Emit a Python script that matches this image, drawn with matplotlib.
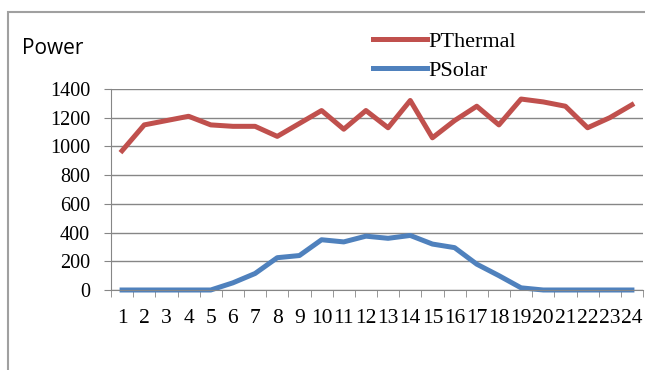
import matplotlib.pyplot as plt
from matplotlib.patches import Rectangle
from matplotlib.lines import Line2D
import numpy as np

hours = list(range(1, 25))
p_thermal = [970, 1150, 1180, 1210, 1150, 1140, 1140, 1070, 1160, 1250, 1120, 1250,
             1130, 1320, 1060, 1180, 1280, 1150, 1330, 1310, 1280, 1130, 1200, 1290]
p_solar = [0, 0, 0, 0, 0, 50, 115, 225, 240, 350, 335, 375,
           360, 380, 320, 295, 180, 100, 15, 0, 0, 0, 0, 0]

RED = '#C0504D'
BLUE = '#4F81BD'
GRID = '#868686'
SERIF = 'Liberation Serif'

W, H = 645, 370
fig = plt.figure(figsize=(W / 100, H / 100), dpi=100)
ax = fig.add_axes([111 / W, 80 / H, (643 - 111) / W, (290 - 89) / H])

x = np.arange(len(hours))
ax.plot(x, p_thermal, color=RED, lw=3.6, solid_joinstyle='round', clip_on=False)
ax.plot(x, p_solar, color=BLUE, lw=3.6, solid_joinstyle='round', clip_on=False)

ax.set_xlim(-0.5, len(hours) - 0.5)
ax.set_ylim(0, 1400)
ax.set_yticks(np.arange(0, 1401, 200))
ax.set_xticks(x)
ax.set_xticklabels([str(h) for h in hours], family=SERIF, fontsize=15.5)
ax.set_xticks(np.arange(-0.5, len(hours)), minor=True)
for lab in ax.get_yticklabels():
    lab.set_family(SERIF)
    lab.set_fontsize(14.5)

ax.grid(axis='y', color=GRID, lw=1)
ax.set_axisbelow(True)
for s in ['top', 'right']:
    ax.spines[s].set_visible(False)
ax.spines['left'].set_color(GRID)
ax.spines['bottom'].set_color(GRID)
ax.tick_params(axis='x', which='major', length=0, pad=14)
ax.tick_params(axis='x', which='minor', length=5, color=GRID, direction='out')
ax.tick_params(axis='y', length=5, color=GRID, pad=10)

fig.text(22 / W, 1 - 48 / H, 'Power', family='Open Sans', fontsize=15, va='center', ha='left')

handles = [Line2D([], [], color=RED, lw=3.6), Line2D([], [], color=BLUE, lw=3.6)]
fig.legend(handles, ['PThermal', 'PSolar'], loc='upper left',
           bbox_to_anchor=(373 / W, 1 - 31 / H), frameon=False,
           prop={'family': SERIF, 'size': 16}, borderpad=0, borderaxespad=0,
           handlelength=2.45, handletextpad=0.05, labelspacing=0.38)

fig.patches.append(Rectangle((8 / W, -0.1), 1.2, 1 - 12 / H + 0.1, transform=fig.transFigure,
                             fill=False, edgecolor='#A0A0A0', lw=1.5))

fig.savefig('out.png', dpi=100)
